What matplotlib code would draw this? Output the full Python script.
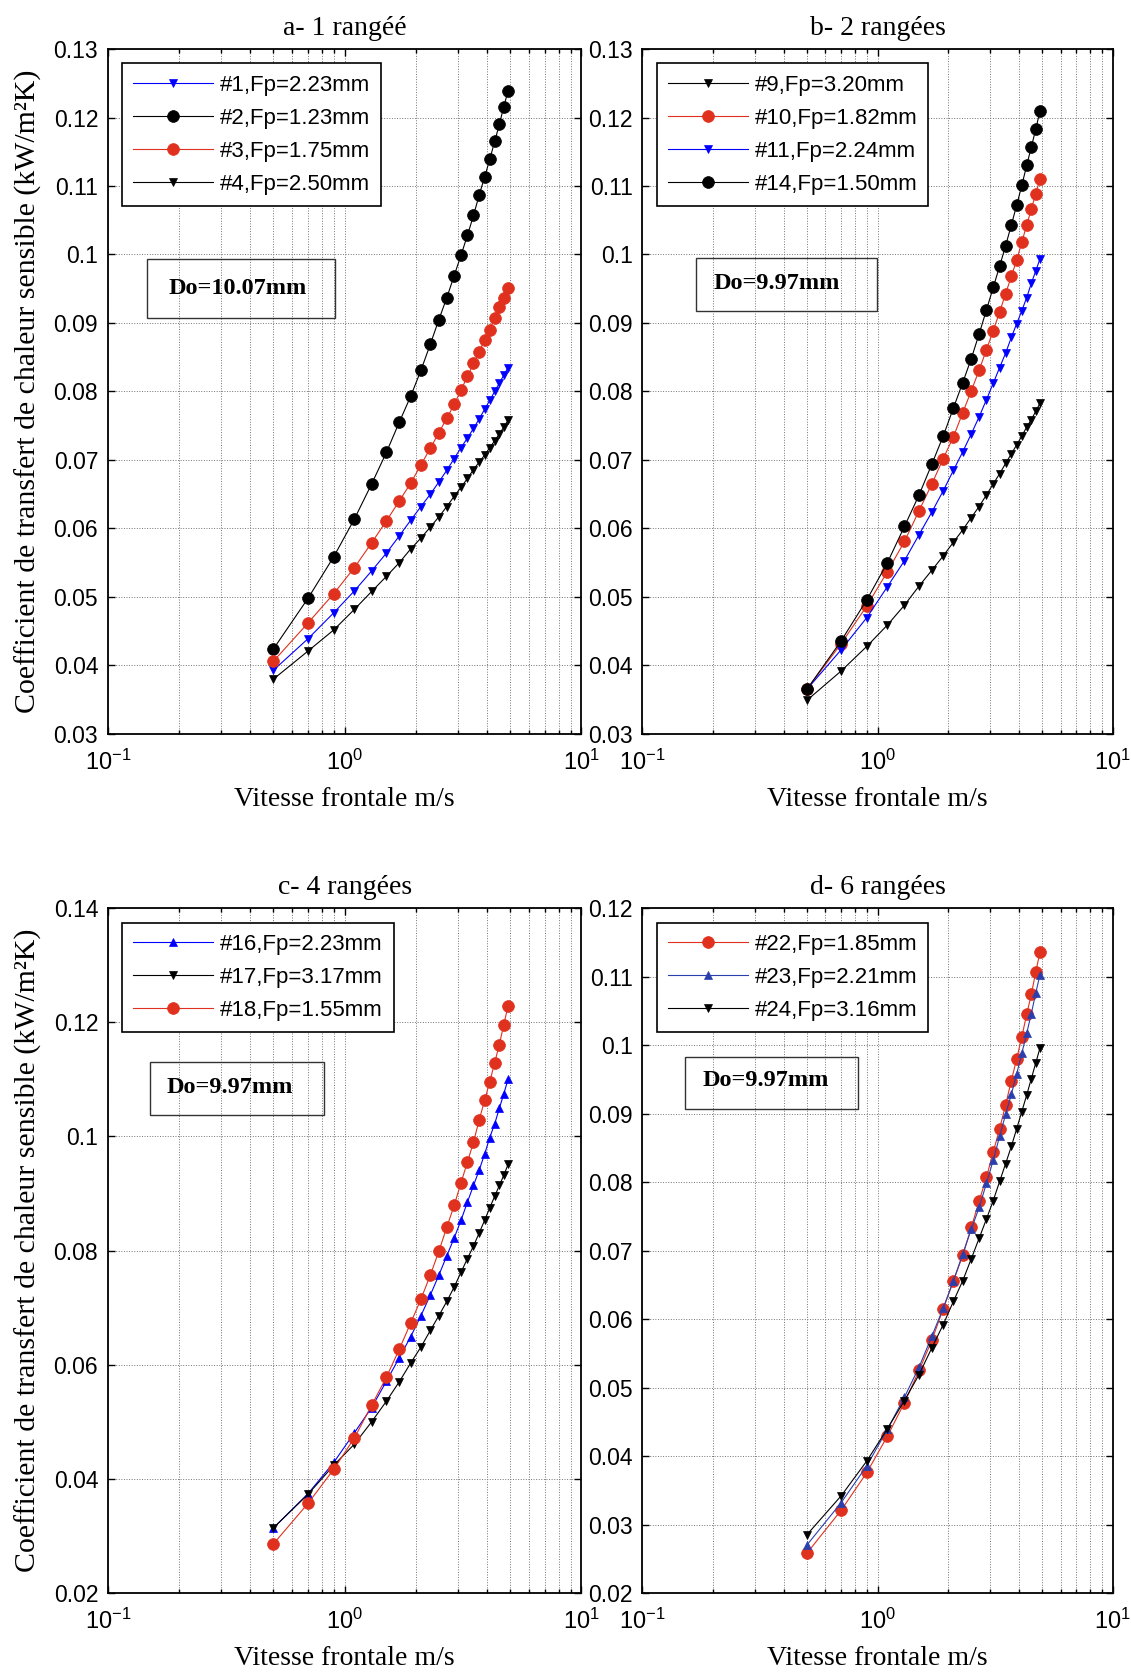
import math
import matplotlib
matplotlib.use('Agg')
import matplotlib.pyplot as plt
from matplotlib import ticker
from matplotlib.patches import Rectangle

plt.rcParams['font.family'] = 'Liberation Sans'
plt.rcParams['mathtext.fontset'] = 'custom'
plt.rcParams['mathtext.rm'] = 'Liberation Sans'
plt.rcParams['mathtext.it'] = 'Liberation Sans:italic'

BLUE = '#0000ff'
NAVY = '#2a3fae'
RED = '#e0301e'
BLACK = 'k'

# vitesse frontale (m/s)
vitesse = [0.5, 0.7, 0.9, 1.1, 1.3, 1.5, 1.7, 1.9, 2.1, 2.3, 2.5, 2.7,
           2.9, 3.1, 3.3, 3.5, 3.7, 3.9, 4.1, 4.3, 4.5, 4.7, 4.9]

# a- 1 rangee
h1 = [0.0393, 0.0439, 0.0477, 0.0509, 0.0538, 0.0564, 0.0589, 0.0612, 0.0632, 0.0650, 0.0668, 0.0685,
      0.0702, 0.0718, 0.0732, 0.0746, 0.0760, 0.0774, 0.0787, 0.0800, 0.0812, 0.0824, 0.0835]
h2 = [0.0424, 0.0498, 0.0559, 0.0614, 0.0665, 0.0711, 0.0755, 0.0793, 0.0831, 0.0869, 0.0905, 0.0937,
      0.0969, 0.0999, 0.1028, 0.1057, 0.1087, 0.1113, 0.1139, 0.1165, 0.1190, 0.1216, 0.1239]
h3 = [0.0406, 0.0462, 0.0505, 0.0543, 0.0579, 0.0611, 0.0640, 0.0666, 0.0693, 0.0717, 0.0740, 0.0761,
      0.0781, 0.0802, 0.0822, 0.0841, 0.0858, 0.0875, 0.0890, 0.0907, 0.0923, 0.0936, 0.0951]
h4 = [0.0380, 0.0421, 0.0452, 0.0482, 0.0508, 0.0530, 0.0550, 0.0570, 0.0586, 0.0602, 0.0617, 0.0632,
      0.0647, 0.0660, 0.0673, 0.0686, 0.0697, 0.0707, 0.0718, 0.0728, 0.0738, 0.0748, 0.0758]

# b- 2 rangees
h9 = [0.0349, 0.0392, 0.0428, 0.0459, 0.0488, 0.0516, 0.0539, 0.0560, 0.0580, 0.0598, 0.0616, 0.0632,
      0.0649, 0.0665, 0.0680, 0.0695, 0.0709, 0.0722, 0.0735, 0.0748, 0.0759, 0.0771, 0.0783]
h10 = [0.0365, 0.0432, 0.0487, 0.0537, 0.0581, 0.0626, 0.0665, 0.0702, 0.0734, 0.0769, 0.0801, 0.0831,
       0.0861, 0.0889, 0.0916, 0.0943, 0.0968, 0.0992, 0.1018, 0.1043, 0.1066, 0.1089, 0.1110]
h11 = [0.0365, 0.0423, 0.0470, 0.0515, 0.0553, 0.0591, 0.0624, 0.0655, 0.0685, 0.0712, 0.0738, 0.0763,
       0.0788, 0.0812, 0.0835, 0.0856, 0.0879, 0.0899, 0.0918, 0.0937, 0.0958, 0.0976, 0.0994]
h14 = [0.0365, 0.0436, 0.0496, 0.0550, 0.0603, 0.0649, 0.0694, 0.0735, 0.0776, 0.0813, 0.0848, 0.0884,
       0.0919, 0.0952, 0.0983, 0.1013, 0.1043, 0.1072, 0.1101, 0.1130, 0.1157, 0.1183, 0.1210]

# c- 4 rangees
h16 = [0.0314, 0.0374, 0.0429, 0.0481, 0.0525, 0.0571, 0.0612, 0.0649, 0.0686, 0.0722, 0.0757, 0.0791,
       0.0822, 0.0853, 0.0885, 0.0914, 0.0941, 0.0969, 0.0998, 0.1022, 0.1049, 0.1075, 0.1100]
h17 = [0.0314, 0.0373, 0.0424, 0.0461, 0.0500, 0.0536, 0.0570, 0.0603, 0.0631, 0.0660, 0.0686, 0.0711,
       0.0736, 0.0762, 0.0786, 0.0808, 0.0831, 0.0853, 0.0875, 0.0895, 0.0914, 0.0932, 0.0951]
h18 = [0.0286, 0.0357, 0.0417, 0.0472, 0.0529, 0.0578, 0.0627, 0.0673, 0.0715, 0.0757, 0.0799, 0.0841,
       0.0879, 0.0919, 0.0955, 0.0990, 0.1029, 0.1063, 0.1096, 0.1129, 0.1161, 0.1196, 0.1229]

# d- 6 rangees
h22 = [0.0258, 0.0321, 0.0376, 0.0429, 0.0478, 0.0525, 0.0569, 0.0615, 0.0656, 0.0693, 0.0734, 0.0772,
       0.0807, 0.0844, 0.0878, 0.0913, 0.0948, 0.0980, 0.1012, 0.1045, 0.1074, 0.1107, 0.1136]
h23 = [0.0270, 0.0332, 0.0386, 0.0439, 0.0486, 0.0530, 0.0575, 0.0616, 0.0656, 0.0695, 0.0731, 0.0763,
       0.0798, 0.0832, 0.0867, 0.0899, 0.0928, 0.0958, 0.0988, 0.1017, 0.1046, 0.1076, 0.1103]
h24 = [0.0285, 0.0342, 0.0393, 0.0440, 0.0481, 0.0519, 0.0558, 0.0592, 0.0626, 0.0656, 0.0688, 0.0718,
       0.0746, 0.0773, 0.0801, 0.0827, 0.0852, 0.0878, 0.0903, 0.0927, 0.0951, 0.0974, 0.0996]

titles = ['a- 1 rangéé', 'b- 2 rangées', 'c- 4 rangées', 'd- 6 rangées']
diametres = ['Do=10.07mm', 'Do=9.97mm', 'Do=9.97mm', 'Do=9.97mm']

ylabel = 'Coefficient de transfert de chaleur sensible (kW/m²K)'
xlabel = 'Vitesse frontale m/s'


def log_label(v, pos):
    return r'$\mathdefault{10^{%d}}$' % round(math.log10(v))


def draw_panel(ax, title, series, ylim, yticks, do_text, box, txy, with_ylabel):
    for label, vals, color, marker in series:
        ms = 8.5 if marker == 'o' else 6
        ax.plot(vitesse, vals, '-', color=color, lw=0.8, marker=marker, ms=ms,
                mfc=color, mec=color, mew=0.5, label=label)

    ax.set_xscale('log')
    ax.set_xlim(0.1, 10)
    ax.set_ylim(*ylim)
    ax.set_yticks(yticks)
    ax.yaxis.set_major_formatter(ticker.FormatStrFormatter('%g'))
    ax.yaxis.set_minor_locator(ticker.NullLocator())
    ax.xaxis.set_major_formatter(ticker.FuncFormatter(log_label))

    ax.grid(True, which='major', axis='both', ls=':', color='0.45', lw=0.7)
    ax.grid(True, which='minor', axis='x', ls=':', color='0.45', lw=0.7)
    ax.tick_params(which='both', direction='in', top=True, right=True, width=1,
                   labelsize=16.5)
    ax.tick_params(which='major', length=5, pad=7)
    ax.tick_params(axis='x', which='major', pad=11, labelsize=17)
    ax.tick_params(which='minor', length=3)
    for sp in ax.spines.values():
        sp.set_linewidth(1.3)

    ax.set_title(title, family='Liberation Serif', fontsize=20, pad=10)
    ax.set_xlabel(xlabel, family='Liberation Serif', fontsize=20)
    ax.xaxis.set_label_coords(0.5, -0.078)
    if with_ylabel:
        ax.set_ylabel(ylabel, family='Liberation Serif', fontsize=21.5)
        ax.yaxis.set_label_coords(-0.14, 0.5)

    leg = ax.legend(loc='upper left', bbox_to_anchor=(0, 1), borderaxespad=0.65,
                    fancybox=False, edgecolor='k', framealpha=1, handlelength=3.6,
                    handletextpad=0.3, labelspacing=0.55, fontsize=16, borderpad=0.5)
    leg.get_frame().set_linewidth(1.2)

    x0, x1, y0, y1 = box
    ax.add_patch(Rectangle((x0, y0), x1 - x0, y1 - y0, transform=ax.transAxes,
                           fill=False, ec='0.2', lw=1.0, zorder=4))
    ax.text(txy[0], txy[1], do_text, transform=ax.transAxes, ha='center', va='center',
            family='Liberation Serif', weight='bold', fontsize=17.5, zorder=5)


fig = plt.figure(figsize=(11.31, 16.73), dpi=100)
ax_a = fig.add_axes([0.0954, 0.5613, 0.4187, 0.4094])
ax_b = fig.add_axes([0.568, 0.5613, 0.416, 0.4094])
ax_c = fig.add_axes([0.0954, 0.0478, 0.4187, 0.4094])
ax_d = fig.add_axes([0.568, 0.0478, 0.416, 0.4094])

draw_panel(ax_a, titles[0],
           [('#1,Fp=2.23mm', h1, BLUE, 'v'),
            ('#2,Fp=1.23mm', h2, BLACK, 'o'),
            ('#3,Fp=1.75mm', h3, RED, 'o'),
            ('#4,Fp=2.50mm', h4, BLACK, 'v')],
           (0.03, 0.13), [0.03, 0.04, 0.05, 0.06, 0.07, 0.08, 0.09, 0.10, 0.11, 0.12, 0.13],
           diametres[0], (0.083, 0.480, 0.607, 0.693), (0.274, 0.651), True)

draw_panel(ax_b, titles[1],
           [('#9,Fp=3.20mm', h9, BLACK, 'v'),
            ('#10,Fp=1.82mm', h10, RED, 'o'),
            ('#11,Fp=2.24mm', h11, BLUE, 'v'),
            ('#14,Fp=1.50mm', h14, BLACK, 'o')],
           (0.03, 0.13), [0.03, 0.04, 0.05, 0.06, 0.07, 0.08, 0.09, 0.10, 0.11, 0.12, 0.13],
           diametres[1], (0.113, 0.499, 0.617, 0.695), (0.285, 0.657), False)

draw_panel(ax_c, titles[2],
           [('#16,Fp=2.23mm', h16, BLUE, '^'),
            ('#17,Fp=3.17mm', h17, BLACK, 'v'),
            ('#18,Fp=1.55mm', h18, RED, 'o')],
           (0.02, 0.14), [0.02, 0.04, 0.06, 0.08, 0.10, 0.12, 0.14],
           diametres[2], (0.088, 0.457, 0.698, 0.776), (0.258, 0.738), True)

draw_panel(ax_d, titles[3],
           [('#22,Fp=1.85mm', h22, RED, 'o'),
            ('#23,Fp=2.21mm', h23, NAVY, '^'),
            ('#24,Fp=3.16mm', h24, BLACK, 'v')],
           (0.02, 0.12), [0.02, 0.03, 0.04, 0.05, 0.06, 0.07, 0.08, 0.09, 0.10, 0.11, 0.12],
           diametres[3], (0.091, 0.458, 0.706, 0.783), (0.262, 0.748), False)

fig.savefig('out.png', dpi=100)
